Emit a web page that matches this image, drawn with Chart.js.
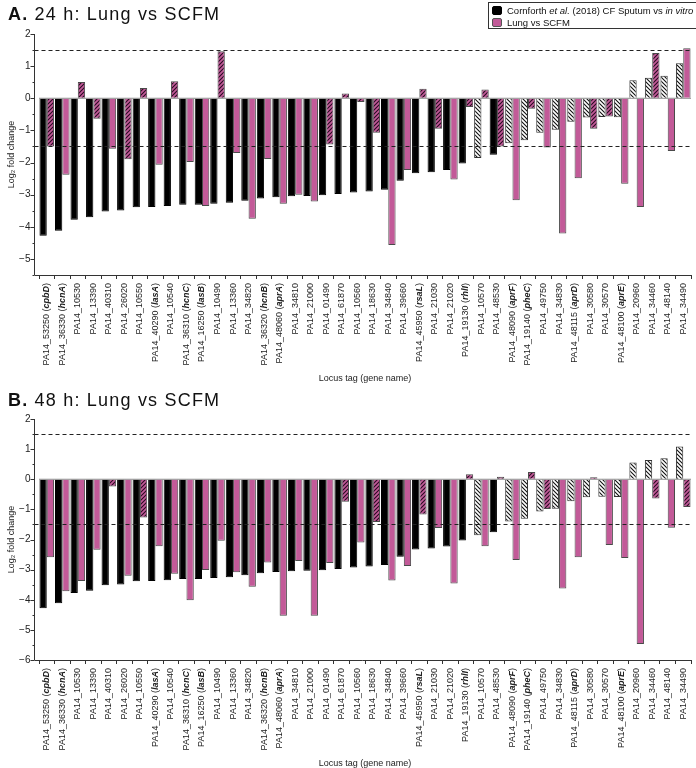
<!DOCTYPE html>
<html>
<head>
<meta charset="utf-8">
<script src="https://cdn.jsdelivr.net/npm/chart.js@4.4.0/dist/chart.umd.min.js"></script>
<style>
  body { margin: 0; background: #fff; }
  #wrap { position: relative; width: 696px; height: 768px; background: #fff; font-family: 'Liberation Sans', Arial, sans-serif; }
  .panel { position: absolute; left: 0; width: 696px; }
  .ttl { position: absolute; left: 8px; font-size: 18px; line-height: 18px; letter-spacing: 1.2px; color: #111; white-space: nowrap; }
  .ttl b { font-weight: bold; }
  #legend { position: absolute; left: 488px; top: 2px; width: 207px; height: 25px; border: 1px solid #333; font-size: 9.5px; color: #111; }
  #legend .row { position: absolute; left: 3px; height: 11px; line-height: 11px; white-space: nowrap; }
  #legend .sw { display: inline-block; width: 10px; height: 9px; border-radius: 2px; vertical-align: -1px; margin-right: 5px; box-sizing: border-box; }
</style>
</head>
<body>
<div id="wrap">
  <div class="panel" style="top:0;height:385px"><canvas id="chartA"></canvas></div>
  <div class="panel" style="top:385px;height:383px"><canvas id="chartB"></canvas></div>
  <div class="ttl" style="top:5px"><b>A.</b> 24 h: Lung vs SCFM</div>
  <div class="ttl" style="top:391px"><b>B.</b> 48 h: Lung vs SCFM</div>
  <div id="legend">
    <div class="row" style="top:2px"><span class="sw" style="background:#000;border:1px solid #000"></span>Cornforth <i>et al.</i> (2018) CF Sputum vs <i>in vitro</i></div>
    <div class="row" style="top:14px"><span class="sw" style="background:#c25a98;border:1px solid #555"></span>Lung vs SCFM</div>
  </div>
</div>
<script>
const tags = ['PA14_53250', 'PA14_36330', 'PA14_10530', 'PA14_13390', 'PA14_40310', 'PA14_26020', 'PA14_10550',
    'PA14_40290', 'PA14_10540', 'PA14_36310', 'PA14_16250', 'PA14_10490', 'PA14_13360', 'PA14_34820', 'PA14_36320',
    'PA14_48060', 'PA14_34810', 'PA14_21000', 'PA14_01490', 'PA14_61870', 'PA14_10560', 'PA14_18630', 'PA14_34840',
    'PA14_39660', 'PA14_45950', 'PA14_21030', 'PA14_21020', 'PA14_19130', 'PA14_10570', 'PA14_48530', 'PA14_48090',
    'PA14_19140', 'PA14_49750', 'PA14_34830', 'PA14_48115', 'PA14_30580', 'PA14_30570', 'PA14_48100', 'PA14_20960',
    'PA14_34460', 'PA14_48140', 'PA14_34490'];
const genes = ['cpbD', 'hcnA', '', '', '', '', '', 'lasA', '', 'hcnC', 'lasB', '', '', '', 'hcnB', 'aprA', '', '', '', '',
    '', '', '', '', 'rsaL', '', '', 'rhlI', '', '', 'aprF', 'pheC', '', '', 'aprD', '', '', 'aprE', '', '', '', ''];

// log2 fold changes
const cornforth = [-4.28, -4.12, -3.78, -3.70, -3.52, -3.49, -3.39, -3.38, -3.35, -3.31, -3.31, -3.28, -3.25, -3.19,
    -3.12, -3.08, -3.05, -3.04, -3.02, -2.98, -2.93, -2.90, -2.85, -2.57, -2.33, -2.30, -2.23, -2.03, -1.86, -1.76,
    -1.40, -1.31, -1.07, -0.98, -0.73, -0.60, -0.58, -0.59, 0.56, 0.64, 0.70, 1.09];
const lung24 = [-1.50, -2.38, 0.51, -0.64, -1.57, -1.90, 0.32, -2.07, 0.53, -1.98, -3.35, 1.46, -1.70, -3.75, -1.89,
    -3.28, -3.00, -3.21, -1.44, 0.15, -0.12, -1.07, -4.57, -2.23, 0.30, -0.95, -2.53, -0.27, 0.27, -1.50, -3.17, -0.33,
    -1.53, -4.21, -2.49, -0.95, -0.57, -2.66, -3.38, 1.41, -1.64, 1.56];
const lung48 = [-2.59, -3.72, -3.38, -2.34, -0.24, -3.20, -1.27, -2.22, -3.14, -4.02, -3.01, -2.04, -3.09, -3.57, -2.76,
    -4.53, -2.71, -4.53, -2.78, -0.75, -2.10, -1.42, -3.36, -2.88, -1.17, -1.62, -3.46, 0.17, -2.22, 0.08, -2.68, 0.24,
    -0.99, -3.63, -2.59, 0.07, -2.18, -2.61, -5.47, -0.64, -1.61, -0.92];

// 1 = hatched bar (not significant)
const cornforthNS = [0, 0, 0, 0, 0, 0, 0, 0, 0, 0, 0, 0, 0, 0, 0, 0, 0, 0, 0, 0, 0, 0, 0, 0, 0, 0, 0, 0, 1, 0,
    1, 1, 1, 1, 1, 1, 1, 1, 1, 1, 1, 1];
const lung24NS = [1, 0, 1, 1, 0, 1, 1, 0, 1, 0, 0, 1, 0, 0, 0, 0, 0, 0, 1, 1, 1, 1, 0, 0, 1, 1, 0, 1, 1, 1,
    0, 1, 0, 0, 0, 1, 1, 0, 0, 1, 0, 0];
const lung48NS = [0, 0, 0, 0, 1, 0, 1, 0, 0, 0, 0, 0, 0, 0, 0, 0, 0, 0, 0, 1, 0, 1, 0, 0, 1, 0, 0, 1, 0, 1,
    0, 1, 1, 0, 0, 1, 0, 0, 0, 1, 0, 1];

const yTicksA = [2, 1.5, 1, 0.5, 0, -0.5, -1, -1.5, -2, -2.5, -3, -3.5, -4, -4.5, -5, -5.5];
const yTicksB = [2, 1.5, 1, 0.5, 0, -0.5, -1, -1.5, -2, -2.5, -3, -3.5, -4, -4.5, -5, -5.5, -6];
const cutoffs = [1.5, -1.5];

const PINK = '#c25a98';
const AXIS = '#333';
const FONT = "'Liberation Sans', Arial, sans-serif";
Chart.defaults.font.family = FONT;

function hatch(bg, fg, dir) {
    const c = document.createElement('canvas');
    c.width = c.height = 4;
    const x = c.getContext('2d');
    x.fillStyle = bg;
    x.fillRect(0, 0, 4, 4);
    x.strokeStyle = fg;
    x.lineWidth = 1.1;
    x.beginPath();
    if (dir > 0) { // "/"
        x.moveTo(-1, 5); x.lineTo(5, -1);
        x.moveTo(-1, 1); x.lineTo(1, -1);
        x.moveTo(3, 5); x.lineTo(5, 3);
    } else { // "\"
        x.moveTo(-1, -1); x.lineTo(5, 5);
        x.moveTo(3, -1); x.lineTo(5, 1);
        x.moveTo(-1, 3); x.lineTo(1, 5);
    }
    x.stroke();
    return x.createPattern(c, 'repeat');
}
const pinkHatch = hatch(PINK, '#2a0a22', 1);
const whiteHatch = hatch('#ffffff', '#111111', -1);

// axis lines, minor ticks, cut-off lines and the mixed-font locus labels
const prismAxes = {
    id: 'prismAxes',
    beforeDatasetsDraw(chart) {
        const { ctx, chartArea: a, scales: { y } } = chart;
        const y0 = y.getPixelForValue(0);
        ctx.save();
        ctx.strokeStyle = '#8a8a8a';
        ctx.lineWidth = 1;
        ctx.beginPath(); ctx.moveTo(a.left, y0); ctx.lineTo(a.right, y0); ctx.stroke();
        ctx.restore();
    },
    afterDatasetsDraw(chart) {
        const { ctx, chartArea: a, scales: { y } } = chart;
        ctx.save();
        ctx.strokeStyle = '#222';
        ctx.lineWidth = 1.2;
        ctx.setLineDash([4, 3]);
        cutoffs.forEach(v => {
            const py = Math.round(y.getPixelForValue(v)) + 0.5;
            ctx.beginPath(); ctx.moveTo(a.left - 4.5, py); ctx.lineTo(a.right, py); ctx.stroke();
        });
        ctx.restore();
    },
    afterDraw(chart) {
        const { ctx, chartArea: a, scales: { x, y } } = chart;
        const ax = a.left - 4.5;
        ctx.save();
        ctx.strokeStyle = AXIS;
        ctx.lineWidth = 1;
        ctx.beginPath();
        ctx.moveTo(ax, a.top); ctx.lineTo(ax, a.bottom);
        ctx.moveTo(ax, a.bottom + 0.5); ctx.lineTo(a.right, a.bottom + 0.5);
        y.ticks.forEach(t => {
            const py = Math.round(y.getPixelForValue(t.value)) + 0.5;
            const len = Number.isInteger(t.value) ? 4 : 2;
            ctx.moveTo(ax - len, py); ctx.lineTo(ax, py);
        });
        ctx.stroke();

        ctx.fillStyle = '#222';
        ctx.textBaseline = 'middle';
        const plain = '9px ' + FONT;
        const bold = 'italic bold 9px ' + FONT;
        tags.forEach((tag, i) => {
            const px = x.getPixelForValue(i);
            ctx.save();
            ctx.translate(px, a.bottom + 8);
            ctx.rotate(-Math.PI / 2);
            ctx.textAlign = 'right';
            ctx.font = plain;
            if (genes[i]) {
                let end = 0;
                ctx.fillText(')', end, 0);
                end -= ctx.measureText(')').width;
                ctx.font = bold;
                ctx.fillText(genes[i], end, 0);
                end -= ctx.measureText(genes[i]).width;
                ctx.font = plain;
                ctx.fillText(tag + ' (', end, 0);
            } else {
                ctx.fillText(tag, 0, 0);
            }
            ctx.restore();
        });
        ctx.font = '9px ' + FONT;
        ctx.textAlign = 'center';
        ctx.fillText('Locus tag (gene name)', (a.left + a.right) / 2, a.bottom + 104);
        ctx.restore();
    }
};

function makeChart(id, lungVals, lungNS, yTicks, padBottom) {
    return new Chart(document.getElementById(id), {
        type: 'bar',
        data: {
            labels: tags,
            datasets: [{
                label: 'Cornforth et al. (2018) CF Sputum vs in vitro',
                data: cornforth,
                backgroundColor: cornforthNS.map(f => f ? whiteHatch : '#000'),
                borderColor: cornforthNS.map(f => f ? '#333' : '#000'),
                borderWidth: 1
            }, {
                label: 'Lung vs SCFM',
                data: lungVals,
                backgroundColor: lungNS.map(f => f ? pinkHatch : PINK),
                borderColor: '#4a4a4a',
                borderWidth: 1
            }]
        },
        options: {
            responsive: true, maintainAspectRatio: false, animation: false,
            layout: { padding: { top: 34, right: 5, bottom: padBottom, left: 0 } },
            plugins: { legend: { display: false }, tooltip: { enabled: false } },
            datasets: { bar: { categoryPercentage: 0.94, barPercentage: 1 } },
            scales: {
                x: {
                    grid: { offset: true, drawOnChartArea: false, tickLength: 4, tickColor: AXIS },
                    border: { display: false },
                    ticks: { display: false }
                },
                y: {
                    min: yTicks[yTicks.length - 1], max: yTicks[0],
                    afterFit: s => { s.width = 39; },
                    afterBuildTicks: s => { s.ticks = yTicks.map(v => ({ value: v })); },
                    border: { display: false },
                    grid: { drawOnChartArea: false, tickLength: 8.5, tickColor: 'transparent' },
                    ticks: {
                        padding: 0, color: '#222', font: { size: 10 },
                        callback: v => Number.isInteger(v) ? (v < 0 ? '\u2212' + (-v) : String(v)) : ''
                    },
                    title: {
                        display: true, text: 'Log\u2082 fold change', color: '#222',
                        font: { size: 9 }, padding: { top: 6, bottom: 0 }
                    }
                }
            }
        },
        plugins: [prismAxes]
    });
}

makeChart('chartA', lung24, lung24NS, yTicksA, 106);
makeChart('chartB', lung48, lung48NS, yTicksB, 104);
</script>
</body>
</html>
